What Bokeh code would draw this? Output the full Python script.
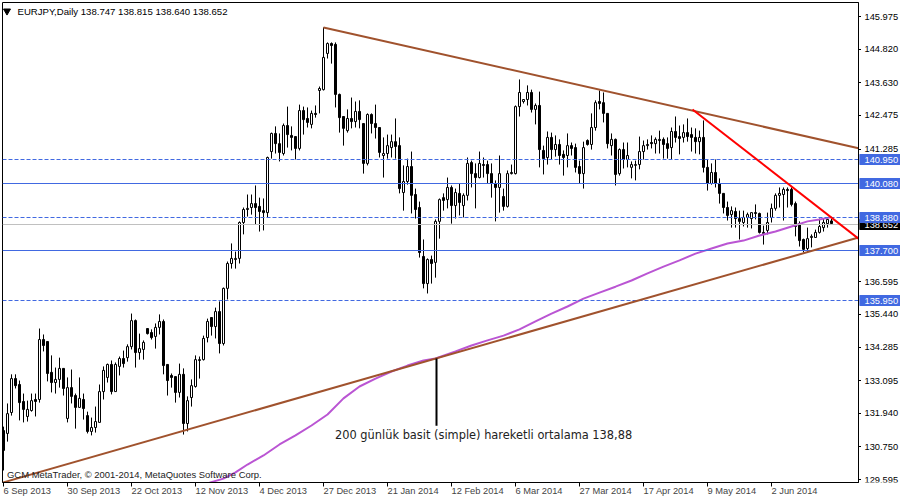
import math
from bokeh.plotting import figure
from bokeh.layouts import row
from bokeh.models import ColumnDataSource, Label, FixedTicker, Range1d
from bokeh.core.properties import value
from bokeh.embed import file_html
from bokeh.resources import INLINE

highs = [
131.47,132.29,133.32,133.32,133.10,132.64,132.39,132.64,132.64,134.94,
134.73,134.48,133.99,133.56,133.91,133.53,133.21,133.49,132.64,133.21,
132.64,132.00,131.79,132.18,132.96,133.60,133.70,133.81,133.74,133.95,
134.16,134.38,135.47,135.26,134.76,134.52,134.94,134.91,135.12,135.44,
135.26,133.67,133.35,133.24,133.70,133.53,132.54,133.14,133.99,133.95,
134.69,135.29,135.33,135.68,135.90,136.39,137.31,137.95,137.66,138.73,
139.22,139.68,139.68,140.00,139.57,139.54,141.02,141.87,142.09,141.84,
142.19,142.79,142.09,141.73,142.86,142.79,142.76,142.65,142.83,143.50,
145.59,145.06,145.06,145.06,143.25,142.44,142.69,143.11,142.97,143.01,
142.19,142.55,142.55,142.86,142.05,141.70,141.80,141.80,142.37,141.70,
140.71,140.95,141.20,139.89,139.43,138.09,137.42,137.52,138.80,139.54,
139.72,140.28,140.00,139.89,140.07,139.72,140.99,140.88,140.78,141.20,
140.99,140.88,140.78,140.18,141.06,139.89,140.53,140.74,142.83,143.75,
143.04,143.54,143.39,142.90,143.32,141.41,141.91,141.87,141.77,141.63,
141.24,141.84,141.52,141.48,140.88,141.55,141.63,142.55,143.01,143.36,
143.29,142.55,141.84,141.66,141.31,141.52,141.52,140.85,140.88,141.73,
141.59,141.63,141.77,141.70,141.94,141.70,141.70,142.05,142.44,142.12,
142.16,142.37,142.05,142.02,141.94,142.30,140.92,140.78,140.92,140.25,
139.72,139.43,139.26,139.22,139.11,139.11,139.04,139.04,139.33,139.04,
138.58,139.04,139.36,139.72,139.93,139.93,139.93,139.93,139.43,138.73,
138.12,138.51,138.27,138.44,138.83,138.83,138.83,138.815]

lows = [
129.92,130.94,131.86,132.82,131.69,131.62,131.65,132.00,131.83,132.32,
134.13,133.07,132.68,132.64,132.85,132.57,131.62,132.29,131.40,132.15,
131.72,131.23,131.16,131.26,131.62,132.43,133.03,132.61,132.71,133.28,
133.56,133.77,134.20,133.56,133.84,133.84,134.73,134.55,134.23,134.73,
133.32,132.57,132.85,132.32,132.50,131.19,131.30,132.18,132.85,133.17,
133.81,134.45,134.69,134.59,134.06,134.34,135.97,137.06,137.06,137.24,
138.27,138.90,138.97,138.62,138.37,138.41,138.87,140.95,141.13,140.85,
141.06,141.34,141.24,140.92,141.24,141.80,142.05,142.02,142.40,142.55,
143.36,144.49,144.31,142.76,141.87,141.41,141.87,142.02,142.05,142.02,
140.42,140.71,141.84,141.66,140.99,140.28,140.95,140.99,140.95,139.72,
139.11,140.03,139.01,138.83,137.45,136.36,136.18,136.53,136.74,138.12,
139.11,139.19,138.65,138.83,138.94,138.87,139.47,139.93,139.19,140.25,
140.28,140.07,139.57,138.73,139.04,139.11,139.22,140.39,140.39,142.44,
142.90,142.83,142.58,142.16,140.64,140.39,140.74,140.92,141.02,140.74,
140.35,140.64,141.06,140.46,140.07,139.89,141.41,141.27,141.94,142.69,
142.23,141.31,141.06,140.00,140.35,140.60,140.64,140.25,140.18,140.57,
140.92,141.27,141.31,141.13,141.13,140.95,140.95,140.92,141.52,141.10,
141.52,141.55,141.20,141.13,141.10,140.46,139.82,140.03,139.93,139.36,
139.01,138.76,138.51,138.51,138.09,138.55,138.51,138.48,138.80,138.30,
137.91,138.27,138.69,139.11,139.22,138.76,139.22,139.26,138.20,137.84,
137.63,137.63,137.81,138.16,138.30,138.37,138.51,138.640]

opens = [
131.33,131.23,131.97,133.17,132.96,132.36,131.83,132.04,132.43,132.43,
134.55,134.48,133.39,133.03,133.14,133.53,131.76,132.85,132.57,132.15,
132.43,131.86,131.30,131.44,131.62,132.71,133.21,133.67,132.71,133.60,
133.88,133.91,134.30,135.22,134.09,134.20,134.94,134.80,134.66,134.98,
135.19,133.67,133.28,133.24,132.68,133.32,131.58,132.50,132.89,133.81,
133.84,134.62,135.33,135.01,135.54,134.41,136.36,137.24,137.38,137.42,
138.69,139.15,139.22,139.36,139.26,139.11,139.04,141.20,141.84,141.48,
141.13,142.12,141.77,141.73,141.31,142.65,142.37,142.16,142.55,143.36,
143.39,144.67,145.02,144.99,143.22,142.44,141.94,142.37,142.26,142.62,
142.19,140.78,142.51,142.19,142.05,141.06,141.13,141.34,141.55,141.41,
139.75,140.14,140.67,139.68,139.22,137.49,136.53,137.38,137.28,138.73,
139.57,139.50,139.93,139.29,139.72,139.29,139.65,140.81,140.42,140.28,
140.74,140.74,140.42,140.07,139.93,139.61,139.26,140.42,140.42,142.79,
142.97,143.04,143.29,142.69,142.83,141.24,140.99,141.70,141.27,141.45,
141.10,141.06,141.41,141.34,140.67,140.42,141.59,141.45,142.05,142.97,
142.93,142.55,141.41,141.63,140.42,141.27,140.92,140.64,140.71,140.74,
141.20,141.41,141.52,141.48,141.59,141.63,141.48,141.34,141.91,141.73,
141.70,141.87,141.80,141.70,141.55,141.70,140.64,140.07,140.46,140.07,
139.72,139.22,138.97,139.08,138.83,138.69,138.87,138.83,139.04,139.01,
138.34,138.41,138.87,139.19,139.65,139.68,139.86,139.86,139.36,138.65,
138.09,137.77,138.16,138.16,138.34,138.51,138.65,138.747]

closes = [
130.63,131.93,133.17,132.92,132.32,132.08,132.08,132.39,132.36,134.55,
134.34,133.35,133.03,133.14,133.53,132.82,132.85,132.54,132.15,132.47,
132.11,131.30,131.44,131.65,132.71,133.46,133.67,132.71,133.67,133.88,
133.70,134.30,135.22,134.09,134.23,134.45,134.76,134.62,134.98,135.19,
133.63,133.10,133.21,132.68,133.32,131.58,132.39,132.92,133.84,133.84,
134.59,135.19,135.01,135.54,134.41,136.36,137.24,137.42,137.42,138.69,
139.15,139.19,139.36,139.22,139.08,139.04,140.99,141.84,141.48,141.17,
142.12,141.80,141.70,141.31,142.65,142.33,142.23,142.55,142.51,143.43,
144.53,145.02,144.95,143.22,142.40,142.02,142.37,142.26,142.62,142.33,
140.78,142.51,142.19,142.05,141.17,141.13,141.41,141.55,141.38,139.89,
140.14,140.67,139.65,139.15,137.63,136.53,137.38,137.24,138.73,139.50,
139.47,139.93,139.29,139.75,139.40,139.65,140.78,140.42,140.28,140.78,
140.71,140.42,140.07,139.93,140.42,139.26,140.42,140.46,142.79,143.29,
143.04,143.29,142.69,142.83,141.27,140.95,141.70,141.27,141.45,141.06,
140.99,141.41,141.31,140.64,140.42,141.34,141.45,142.05,142.93,142.90,
142.55,141.48,141.63,140.39,141.27,140.92,141.06,140.74,140.74,141.20,
141.41,141.45,141.48,141.63,141.63,141.45,141.31,141.91,141.70,141.66,
141.87,141.73,141.70,141.55,141.70,140.64,140.07,140.46,140.07,139.72,
139.22,138.94,139.11,138.83,138.73,138.87,138.97,139.04,139.01,138.34,
138.30,138.69,139.19,139.65,139.72,139.86,139.82,139.33,138.55,138.05,
137.74,138.12,138.20,138.34,138.55,138.69,138.80,138.652]

sma_bars = [51.5,55,58,61,65,69,73,77,81,85,89,93,97,101,105,108,113,117,121,125,129,133,
            137,141,145,149,153,157,161,165,169,173,177,181,185,189,193,197,201,204,207]
sma_values = [129.49,129.63,129.85,130.13,130.45,130.84,131.16,131.51,131.90,132.47,132.89,
              133.17,133.42,133.63,133.81,133.88,134.13,134.34,134.52,134.69,134.91,135.19,
              135.47,135.72,136.00,136.21,136.42,136.64,136.89,137.13,137.35,137.59,137.77,
              137.95,138.05,138.23,138.37,138.55,138.73,138.80,138.88]

tick_prices = [145.975,144.820,143.630,142.475,141.285,136.595,135.440,134.285,133.095,
               131.940,130.750,129.595]
tick_labels = ["145.975","144.820","143.630","142.475","141.285","136.595","135.440","134.285",
               "133.095","131.940","130.750","129.595"]
date_bars = [0,16,32,48,64,80,96,112,128,144,160,176,192]
date_labels = ["6 Sep 2013","30 Sep 2013","22 Oct 2013","12 Nov 2013","4 Dec 2013","27 Dec 2013",
               "21 Jan 2014","12 Feb 2014","6 Mar 2014","27 Mar 2014","17 Apr 2014","9 May 2014",
               "2 Jun 2014"]
date_label_px = [47.5,52.7,50.6,52.7,47.5,52.7,51.2,52.2,47.0,52.2,50.6,48.6,46.0]
solid_levels = [140.08, 137.70]
solid_labels = ["140.080", "137.700"]
dashed_levels = [140.95, 138.88, 135.95]
dashed_labels = ["140.950", "138.880", "135.950"]
bid_level = 138.652
bid_label = "138.652"
resistance_bars = [80, 213.75]
resistance_prices = [145.59, 141.32]
support_bars = [-0.25, 213.75]
support_prices = [129.49, 138.16]
red_bars = [172.25, 213.75]
red_prices = [142.69, 138.12]
note_bar = 108.25
note_prices = [133.88, 131.50]

X0, X1 = -0.25, 213.75
Y0, Y1 = 129.4942, 146.4718
UNIT = (Y1 - Y0) / 480
BLUE = "#4169E1"
BROWN = "#A0522D"
FONT = "Liberation Sans"
FS = "9.3px"

def crisp(level):
    return Y1 - math.ceil((Y1 - level) / UNIT - 0.01) * UNIT

y_shared = Range1d(Y0, Y1)
p = figure(width=861, height=500, frame_width=856, frame_height=480,
           x_range=Range1d(X0, X1), y_range=y_shared,
           y_axis_location="right", output_backend="svg", toolbar_location=None,
           min_border_left=2, min_border_top=2, min_border_right=3, min_border_bottom=18)
p.grid.visible = False
p.outline_line_color = "black"
p.background_fill_color = "white"

bars = list(range(len(closes)))
fills = ["white" if c >= o else "black" for o, c in zip(opens, closes)]
src = ColumnDataSource(dict(x=bars, h=highs, l=lows, o=opens, c=closes, f=fills))
p.segment("x", "h", "x", "l", source=src, color="black", line_width=1)
p.vbar(x="x", width=0.5, top="o", bottom="c", source=src, fill_color="f", line_color="black", line_width=1)

p.line(sma_bars, sma_values, color="#BA55D3", line_width=2)

for lv in solid_levels:
    p.line([X0, X1], [crisp(lv)] * 2, color=BLUE, line_width=1)
for lv in dashed_levels:
    p.line([X0, X1], [crisp(lv)] * 2, color=BLUE, line_width=1, line_dash="4 2")
p.line([X0, X1], [crisp(bid_level)] * 2, color="#C0C0C0", line_width=1)

p.line(resistance_bars, resistance_prices, color=BROWN, line_width=2)
p.line(support_bars, support_prices, color=BROWN, line_width=2)
p.line(red_bars, red_prices, color="#FF0000", line_width=2)
p.line([note_bar, note_bar], note_prices, color="black", line_width=2)

yax = p.yaxis[0]
yax.ticker = FixedTicker(ticks=[], minor_ticks=tick_prices)
yax.major_tick_out = 0
yax.major_tick_in = 0
yax.minor_tick_out = 3
yax.minor_tick_in = 0
yax.axis_line_color = "black"

label_centres = [round(b + w / 8, 3) for b, w in zip(date_bars, date_label_px)]
xax = p.xaxis[0]
xax.ticker = FixedTicker(ticks=label_centres, minor_ticks=date_bars)
xax.major_label_overrides = dict(zip(label_centres, date_labels))
xax.major_label_text_font = FONT
xax.major_label_text_font_size = FS
xax.major_tick_out = 0
xax.major_tick_in = 0
xax.minor_tick_out = 4
xax.minor_tick_in = 0
xax.major_label_standoff = -1
xax.axis_line_color = "black"

p.scatter([0.875], [146.17], marker="inverted_triangle", size=7, color="black")
p.add_layout(Label(x=3.5, y=146.15, text="EURJPY,Daily  138.747 138.815 138.640 138.652",
                   text_font=FONT, text_font_size="9.6px", text_baseline="middle", text_color="black"))
p.add_layout(Label(x=0.875, y=129.78, text="GCM MetaTrader, \u00a9 2001-2014, MetaQuotes Software Corp.",
                   text_font=FONT, text_font_size="9.45px", text_baseline="middle", text_color="#222222"))
p.add_layout(Label(x=82.875, y=131.16, text="200 g\u00fcnl\u00fck basit (simple) hareketli ortalama 138,88",
                   text_font="DejaVu Sans", text_font_size="11.4px", text_baseline="middle", text_color="#222222"))

side = figure(width=41, height=500, frame_width=41, frame_height=480,
              x_range=Range1d(0, 41), y_range=y_shared, x_axis_type=None, y_axis_type=None,
              output_backend="svg", toolbar_location=None, margin=(0, 0, 0, -2),
              min_border_left=0, min_border_top=2, min_border_right=0, min_border_bottom=18,
              background_fill_color=None, border_fill_color=None, outline_line_color=None)
side.grid.visible = False

def tag(level, text, bg):
    side.hbar(y=[crisp(level)], left=[0], right=[41], height=10 * UNIT, color=bg)
    side.text([5], [crisp(level)], text=[text], text_color="white", text_font=value(FONT),
              text_font_size=FS, text_baseline="middle", text_align="left")

tag(bid_level, bid_label, "black")
for lv, txt in zip(dashed_levels + solid_levels, dashed_labels + solid_labels):
    tag(lv, txt, BLUE)
side.text([5] * len(tick_prices), tick_prices, text=tick_labels, text_color="black",
          text_font=value(FONT), text_font_size=FS, text_baseline="middle", text_align="left")

open("out.html", "w").write(file_html(row(p, side, spacing=0), INLINE))
